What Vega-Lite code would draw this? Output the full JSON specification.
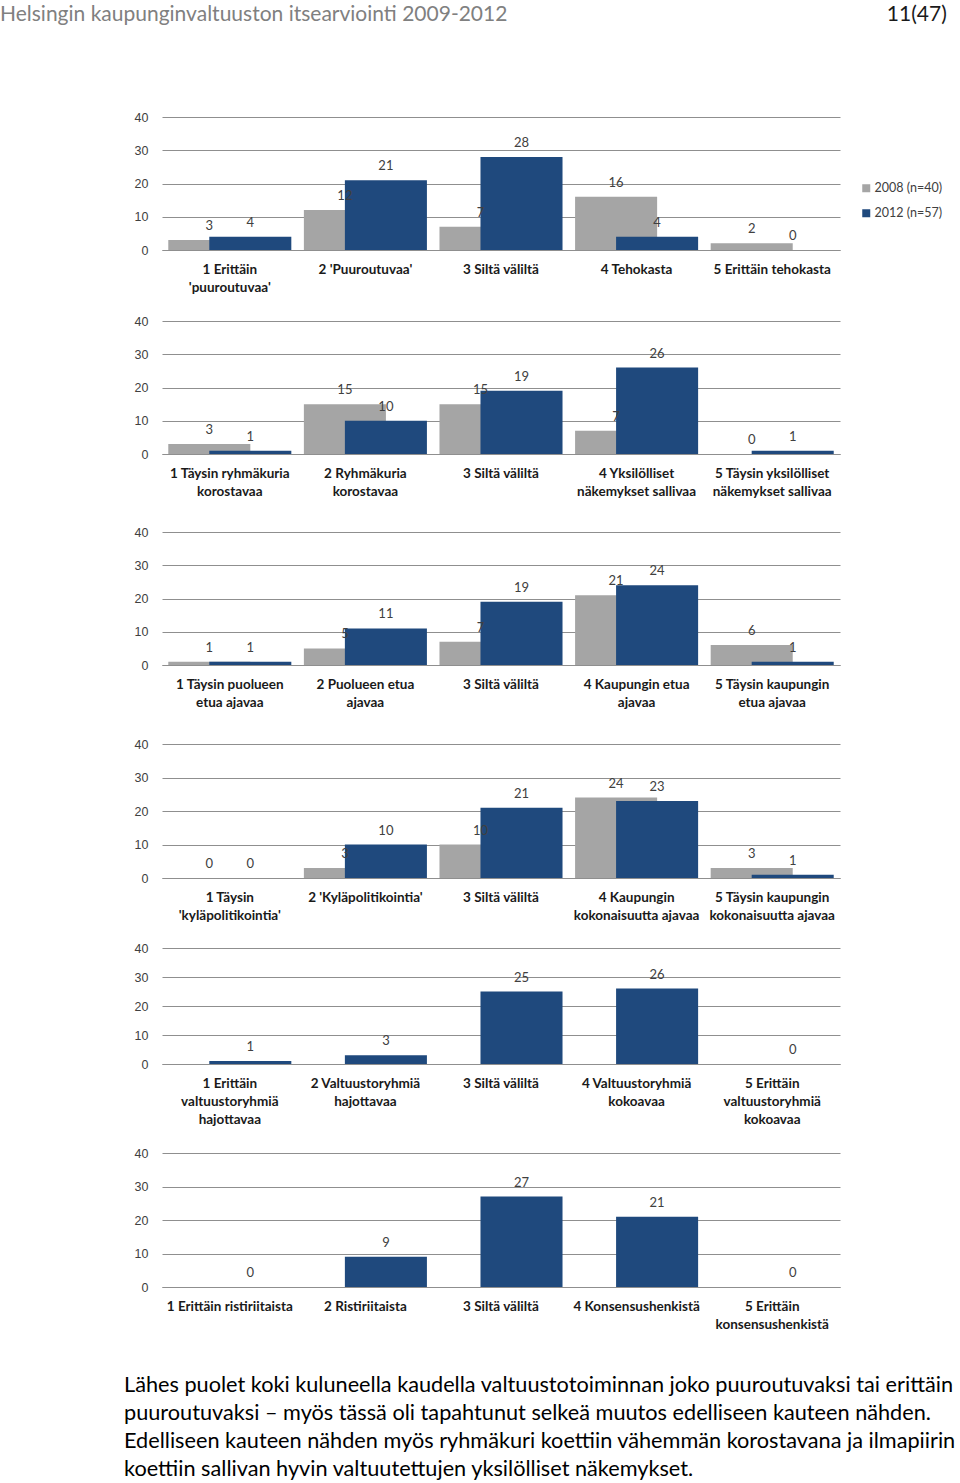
{
  "$schema": "https://vega.github.io/schema/vega-lite/v6.json",
  "padding": {"top": 4, "left": 0, "right": 0, "bottom": 0},
  "background": "white",
  "bounds": "flush",
  "spacing": 0,
  "title": {"text": "11(47)", "anchor": "end", "frame": "bounds", "fontSize": 21, "font": "Lato", "fontWeight": "normal", "color": "#1a1a1a", "dy": 21, "dx": -9, "offset": 0},
  "datasets": {
    "p1": [
      {"cat": "1 Erittäin\n'puuroutuvaa'", "year": "2008 (n=40)", "value": 3},
      {"cat": "2 'Puuroutuvaa'", "year": "2008 (n=40)", "value": 12},
      {"cat": "3 Siltä väliltä", "year": "2008 (n=40)", "value": 7},
      {"cat": "4 Tehokasta", "year": "2008 (n=40)", "value": 16},
      {"cat": "5 Erittäin tehokasta", "year": "2008 (n=40)", "value": 2},
      {"cat": "1 Erittäin\n'puuroutuvaa'", "year": "2012 (n=57)", "value": 4},
      {"cat": "2 'Puuroutuvaa'", "year": "2012 (n=57)", "value": 21},
      {"cat": "3 Siltä väliltä", "year": "2012 (n=57)", "value": 28},
      {"cat": "4 Tehokasta", "year": "2012 (n=57)", "value": 4},
      {"cat": "5 Erittäin tehokasta", "year": "2012 (n=57)", "value": 0}
    ],
    "p2": [
      {"cat": "1 Täysin ryhmäkuria\nkorostavaa", "year": "2008 (n=40)", "value": 3},
      {"cat": "2 Ryhmäkuria\nkorostavaa", "year": "2008 (n=40)", "value": 15},
      {"cat": "3 Siltä väliltä", "year": "2008 (n=40)", "value": 15},
      {"cat": "4 Yksilölliset\nnäkemykset sallivaa", "year": "2008 (n=40)", "value": 7},
      {"cat": "5 Täysin yksilölliset\nnäkemykset sallivaa", "year": "2008 (n=40)", "value": 0},
      {"cat": "1 Täysin ryhmäkuria\nkorostavaa", "year": "2012 (n=57)", "value": 1},
      {"cat": "2 Ryhmäkuria\nkorostavaa", "year": "2012 (n=57)", "value": 10},
      {"cat": "3 Siltä väliltä", "year": "2012 (n=57)", "value": 19},
      {"cat": "4 Yksilölliset\nnäkemykset sallivaa", "year": "2012 (n=57)", "value": 26},
      {"cat": "5 Täysin yksilölliset\nnäkemykset sallivaa", "year": "2012 (n=57)", "value": 1}
    ],
    "p3": [
      {"cat": "1 Täysin puolueen\netua ajavaa", "year": "2008 (n=40)", "value": 1},
      {"cat": "2 Puolueen etua\najavaa", "year": "2008 (n=40)", "value": 5},
      {"cat": "3 Siltä väliltä", "year": "2008 (n=40)", "value": 7},
      {"cat": "4 Kaupungin etua\najavaa", "year": "2008 (n=40)", "value": 21},
      {"cat": "5 Täysin kaupungin\netua ajavaa", "year": "2008 (n=40)", "value": 6},
      {"cat": "1 Täysin puolueen\netua ajavaa", "year": "2012 (n=57)", "value": 1},
      {"cat": "2 Puolueen etua\najavaa", "year": "2012 (n=57)", "value": 11},
      {"cat": "3 Siltä väliltä", "year": "2012 (n=57)", "value": 19},
      {"cat": "4 Kaupungin etua\najavaa", "year": "2012 (n=57)", "value": 24},
      {"cat": "5 Täysin kaupungin\netua ajavaa", "year": "2012 (n=57)", "value": 1}
    ],
    "p4": [
      {"cat": "1 Täysin\n'kyläpolitikointia'", "year": "2008 (n=40)", "value": 0},
      {"cat": "2 'Kyläpolitikointia'", "year": "2008 (n=40)", "value": 3},
      {"cat": "3 Siltä väliltä", "year": "2008 (n=40)", "value": 10},
      {"cat": "4 Kaupungin\nkokonaisuutta ajavaa", "year": "2008 (n=40)", "value": 24},
      {"cat": "5 Täysin kaupungin\nkokonaisuutta ajavaa", "year": "2008 (n=40)", "value": 3},
      {"cat": "1 Täysin\n'kyläpolitikointia'", "year": "2012 (n=57)", "value": 0},
      {"cat": "2 'Kyläpolitikointia'", "year": "2012 (n=57)", "value": 10},
      {"cat": "3 Siltä väliltä", "year": "2012 (n=57)", "value": 21},
      {"cat": "4 Kaupungin\nkokonaisuutta ajavaa", "year": "2012 (n=57)", "value": 23},
      {"cat": "5 Täysin kaupungin\nkokonaisuutta ajavaa", "year": "2012 (n=57)", "value": 1}
    ],
    "p5": [
      {"cat": "1 Erittäin\nvaltuustoryhmiä\nhajottavaa", "year": "2012 (n=57)", "value": 1},
      {"cat": "2 Valtuustoryhmiä\nhajottavaa", "year": "2012 (n=57)", "value": 3},
      {"cat": "3 Siltä väliltä", "year": "2012 (n=57)", "value": 25},
      {"cat": "4 Valtuustoryhmiä\nkokoavaa", "year": "2012 (n=57)", "value": 26},
      {"cat": "5 Erittäin\nvaltuustoryhmiä\nkokoavaa", "year": "2012 (n=57)", "value": 0}
    ],
    "p6": [
      {"cat": "1 Erittäin ristiriitaista", "year": "2012 (n=57)", "value": 0},
      {"cat": "2 Ristiriitaista", "year": "2012 (n=57)", "value": 9},
      {"cat": "3 Siltä väliltä", "year": "2012 (n=57)", "value": 27},
      {"cat": "4 Konsensushenkistä", "year": "2012 (n=57)", "value": 21},
      {"cat": "5 Erittäin\nkonsensushenkistä", "year": "2012 (n=57)", "value": 0}
    ]
  },
  "vconcat": [
    {
      "title": {"text": "Helsingin kaupunginvaltuuston itsearviointi 2009-2012", "anchor": "start", "frame": "group", "dx": -162, "offset": 86, "fontSize": 21, "font": "Lato", "fontWeight": "normal", "color": "#808080"},
      "data": {"name": "p1"},
      "width": 678, "height": 133,
      "encoding": {
        "x": {"field": "cat", "type": "nominal", "sort": null, "scale": {"paddingInner": 0, "paddingOuter": 0}, "axis": {"title": null, "labelExpr": "split(datum.label, '\\n')"}},
        "y": {"field": "value", "type": "quantitative", "scale": {"domain": [0, 40], "nice": false}, "axis": {"title": null, "values": [0, 10, 20, 30, 40]}},
        "color": {"field": "year", "type": "nominal", "scale": {"domain": ["2008 (n=40)", "2012 (n=57)"], "range": ["#a5a5a5", "#1f497d"]}, "legend": {"orient": "none", "legendX": 698, "legendY": 65}}
      },
      "layer": [
        {"transform": [{"filter": "datum.year === '2008 (n=40)'"}], "mark": {"type": "bar", "width": {"band": 0.605}, "xOffset": -20.5}},
        {"transform": [{"filter": "datum.year === '2012 (n=57)'"}], "mark": {"type": "bar", "width": {"band": 0.605}, "xOffset": 20.5}},
        {"transform": [{"filter": "datum.year === '2008 (n=40)'"}], "mark": {"type": "text", "xOffset": -20.5, "dy": -14, "baseline": "middle", "font": "Lato", "fontSize": 13}, "encoding": {"text": {"field": "value"}, "color": {"value": "#404040"}}},
        {"transform": [{"filter": "datum.year === '2012 (n=57)'"}], "mark": {"type": "text", "xOffset": 20.5, "dy": -14, "baseline": "middle", "font": "Lato", "fontSize": 13}, "encoding": {"text": {"field": "value"}, "color": {"value": "#404040"}}}
      ]
    },
    {
      "data": {"name": "p2"},
      "width": 678, "height": 204,
      "encoding": {
        "x": {"field": "cat", "type": "nominal", "sort": null, "scale": {"paddingInner": 0, "paddingOuter": 0}, "axis": {"title": null, "labelExpr": "split(datum.label, '\\n')"}},
        "y": {"field": "value", "type": "quantitative", "scale": {"domain": [0, 40], "nice": false, "range": [204, 71]}, "axis": {"title": null, "values": [0, 10, 20, 30, 40]}},
        "color": {"field": "year", "type": "nominal", "scale": {"domain": ["2008 (n=40)", "2012 (n=57)"], "range": ["#a5a5a5", "#1f497d"]}, "legend": {"orient": "none", "legendX": 698, "legendY": 136}}
      },
      "layer": [
        {"transform": [{"filter": "datum.year === '2008 (n=40)'"}], "mark": {"type": "bar", "width": {"band": 0.605}, "xOffset": -20.5}},
        {"transform": [{"filter": "datum.year === '2012 (n=57)'"}], "mark": {"type": "bar", "width": {"band": 0.605}, "xOffset": 20.5}},
        {"transform": [{"filter": "datum.year === '2008 (n=40)'"}], "mark": {"type": "text", "xOffset": -20.5, "dy": -14, "baseline": "middle", "font": "Lato", "fontSize": 13}, "encoding": {"text": {"field": "value"}, "color": {"value": "#404040"}}},
        {"transform": [{"filter": "datum.year === '2012 (n=57)'"}], "mark": {"type": "text", "xOffset": 20.5, "dy": -14, "baseline": "middle", "font": "Lato", "fontSize": 13}, "encoding": {"text": {"field": "value"}, "color": {"value": "#404040"}}}
      ]
    },
    {
      "data": {"name": "p3"},
      "width": 678, "height": 211,
      "encoding": {
        "x": {"field": "cat", "type": "nominal", "sort": null, "scale": {"paddingInner": 0, "paddingOuter": 0}, "axis": {"title": null, "labelExpr": "split(datum.label, '\\n')"}},
        "y": {"field": "value", "type": "quantitative", "scale": {"domain": [0, 40], "nice": false, "range": [211, 78]}, "axis": {"title": null, "values": [0, 10, 20, 30, 40]}},
        "color": {"field": "year", "type": "nominal", "scale": {"domain": ["2008 (n=40)", "2012 (n=57)"], "range": ["#a5a5a5", "#1f497d"]}, "legend": {"orient": "none", "legendX": 698, "legendY": 143}}
      },
      "layer": [
        {"transform": [{"filter": "datum.year === '2008 (n=40)'"}], "mark": {"type": "bar", "width": {"band": 0.605}, "xOffset": -20.5}},
        {"transform": [{"filter": "datum.year === '2012 (n=57)'"}], "mark": {"type": "bar", "width": {"band": 0.605}, "xOffset": 20.5}},
        {"transform": [{"filter": "datum.year === '2008 (n=40)'"}], "mark": {"type": "text", "xOffset": -20.5, "dy": -14, "baseline": "middle", "font": "Lato", "fontSize": 13}, "encoding": {"text": {"field": "value"}, "color": {"value": "#404040"}}},
        {"transform": [{"filter": "datum.year === '2012 (n=57)'"}], "mark": {"type": "text", "xOffset": 20.5, "dy": -14, "baseline": "middle", "font": "Lato", "fontSize": 13}, "encoding": {"text": {"field": "value"}, "color": {"value": "#404040"}}}
      ]
    },
    {
      "data": {"name": "p4"},
      "width": 678, "height": 213,
      "encoding": {
        "x": {"field": "cat", "type": "nominal", "sort": null, "scale": {"paddingInner": 0, "paddingOuter": 0}, "axis": {"title": null, "labelExpr": "split(datum.label, '\\n')"}},
        "y": {"field": "value", "type": "quantitative", "scale": {"domain": [0, 40], "nice": false, "range": [213, 79]}, "axis": {"title": null, "values": [0, 10, 20, 30, 40]}},
        "color": {"field": "year", "type": "nominal", "scale": {"domain": ["2008 (n=40)", "2012 (n=57)"], "range": ["#a5a5a5", "#1f497d"]}, "legend": {"orient": "none", "legendX": 698, "legendY": 144}}
      },
      "layer": [
        {"transform": [{"filter": "datum.year === '2008 (n=40)'"}], "mark": {"type": "bar", "width": {"band": 0.605}, "xOffset": -20.5}},
        {"transform": [{"filter": "datum.year === '2012 (n=57)'"}], "mark": {"type": "bar", "width": {"band": 0.605}, "xOffset": 20.5}},
        {"transform": [{"filter": "datum.year === '2008 (n=40)'"}], "mark": {"type": "text", "xOffset": -20.5, "dy": -14, "baseline": "middle", "font": "Lato", "fontSize": 13}, "encoding": {"text": {"field": "value"}, "color": {"value": "#404040"}}},
        {"transform": [{"filter": "datum.year === '2012 (n=57)'"}], "mark": {"type": "text", "xOffset": 20.5, "dy": -14, "baseline": "middle", "font": "Lato", "fontSize": 13}, "encoding": {"text": {"field": "value"}, "color": {"value": "#404040"}}}
      ]
    },
    {
      "data": {"name": "p5"},
      "width": 678, "height": 186,
      "encoding": {
        "x": {"field": "cat", "type": "nominal", "sort": null, "scale": {"paddingInner": 0, "paddingOuter": 0}, "axis": {"title": null, "labelExpr": "split(datum.label, '\\n')"}},
        "y": {"field": "value", "type": "quantitative", "scale": {"domain": [0, 40], "nice": false, "range": [186, 70]}, "axis": {"title": null, "values": [0, 10, 20, 30, 40]}},
        "color": {"field": "year", "type": "nominal", "scale": {"domain": ["2012 (n=57)"], "range": ["#1f497d"]}, "legend": {"orient": "none", "legendX": 698, "legendY": 149}}
      },
      "layer": [
        {"mark": {"type": "bar", "width": {"band": 0.605}, "xOffset": 20.5}},
        {"mark": {"type": "text", "xOffset": 20.5, "dy": -14, "baseline": "middle", "font": "Lato", "fontSize": 13}, "encoding": {"text": {"field": "value"}, "color": {"value": "#404040"}}}
      ]
    },
    {
      "title": {"text": ["Lähes puolet koki kuluneella kaudella valtuustotoiminnan joko puuroutuvaksi tai erittäin", "puuroutuvaksi – myös tässä oli tapahtunut selkeä muutos edelliseen kauteen nähden.", "Edelliseen kauteen nähden myös ryhmäkuri koettiin vähemmän korostavana ja ilmapiirin", "koettiin sallivan hyvin valtuutettujen yksilölliset näkemykset."], "orient": "bottom", "anchor": "start", "frame": "group", "dx": -38, "offset": 44, "fontSize": 21.7, "lineHeight": 28, "font": "Lato", "fontWeight": "normal", "color": "#000000"},
      "data": {"name": "p6"},
      "width": 678, "height": 223,
      "encoding": {
        "x": {"field": "cat", "type": "nominal", "sort": null, "scale": {"paddingInner": 0, "paddingOuter": 0}, "axis": {"title": null, "labelExpr": "split(datum.label, '\\n')"}},
        "y": {"field": "value", "type": "quantitative", "scale": {"domain": [0, 40], "nice": false, "range": [223, 89]}, "axis": {"title": null, "values": [0, 10, 20, 30, 40]}},
        "color": {"field": "year", "type": "nominal", "scale": {"domain": ["2012 (n=57)"], "range": ["#1f497d"]}, "legend": {"orient": "none", "legendX": 698, "legendY": 168}}
      },
      "layer": [
        {"mark": {"type": "bar", "width": {"band": 0.605}, "xOffset": 20.5}},
        {"mark": {"type": "text", "xOffset": 20.5, "dy": -14, "baseline": "middle", "font": "Lato", "fontSize": 13}, "encoding": {"text": {"field": "value"}, "color": {"value": "#404040"}}}
      ]
    }
  ],
  "config": {
    "view": {"stroke": null},
    "axisX": {"domain": true, "domainColor": "#8f8f8f", "domainWidth": 1, "ticks": false, "labelPadding": 12, "labelFont": "Lato", "labelFontWeight": "bold", "labelFontSize": 13.5, "labelColor": "#1a1a1a", "labelLineHeight": 18, "labelAngle": 0, "labelOverlap": false, "labelLimit": 250, "grid": false},
    "axisY": {"domain": false, "ticks": false, "grid": true, "gridColor": "#8f8f8f", "gridWidth": 1, "labelPadding": 14, "labelFont": "Liberation Sans", "labelFontSize": 12.5, "labelColor": "#404040"},
    "legend": {"title": null, "padding": 0, "symbolType": "square", "symbolSize": 64, "symbolStrokeWidth": 0, "labelFont": "Lato", "labelFontSize": 12.5, "labelColor": "#404040", "rowPadding": 12, "labelOffset": 2}
  }
}
